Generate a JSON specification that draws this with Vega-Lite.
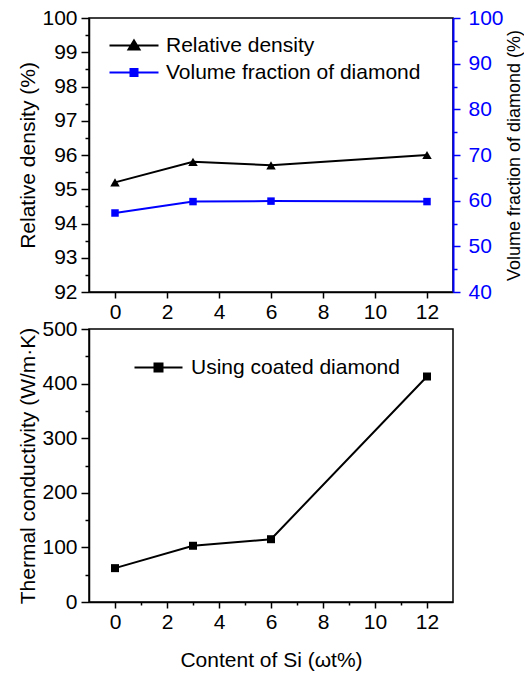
{
  "$schema": "https://vega.github.io/schema/vega-lite/v6.json",
  "padding": {"left": 17, "top": 6, "right": 0, "bottom": 2},
  "bounds": "flush",
  "spacing": 37,
  "datasets": {
    "top": [
      {"si": 0, "series": "Relative density", "value": 95.2},
      {"si": 3, "series": "Relative density", "value": 95.8},
      {"si": 6, "series": "Relative density", "value": 95.7},
      {"si": 12, "series": "Relative density", "value": 96.0},
      {"si": 0, "series": "Volume fraction of diamond", "value": 57.3},
      {"si": 3, "series": "Volume fraction of diamond", "value": 59.8},
      {"si": 6, "series": "Volume fraction of diamond", "value": 59.9},
      {"si": 12, "series": "Volume fraction of diamond", "value": 59.8}
    ],
    "bottom": [
      {"si": 0, "series": "Using coated diamond", "value": 62},
      {"si": 3, "series": "Using coated diamond", "value": 103},
      {"si": 6, "series": "Using coated diamond", "value": 115},
      {"si": 12, "series": "Using coated diamond", "value": 413}
    ]
  },
  "resolve": {"scale": {"color": "independent", "x": "independent"}, "legend": {"color": "independent"}},
  "vconcat": [
    {
      "width": 364,
      "height": 274,
      "data": {"name": "top"},
      "resolve": {"scale": {"y": "independent"}},
      "layer": [
        {
          "transform": [{"filter": "datum.series == 'Relative density'"}],
          "encoding": {
            "x": {"field": "si", "type": "quantitative", "scale": {"domain": [-1, 13], "nice": false},
              "axis": {"title": null, "values": [0,1,2,3,4,5,6,7,8,9,10,11,12],
                "labelExpr": "datum.value % 2 == 0 ? format(datum.value, 'd') : ''",
                "tickSize": 6, "labelFlush": false, "labelPadding": 3,
                "encoding": {"ticks": {"y2": {"condition": {"test": "datum.value % 2 != 0", "value": 3}, "value": 6}}}}},
            "y": {"field": "value", "type": "quantitative", "scale": {"domain": [92, 100], "nice": false, "zero": false},
              "axis": {"title": "Relative density (%)", "values": [92,92.5,93,93.5,94,94.5,95,95.5,96,96.5,97,97.5,98,98.5,99,99.5,100],
                "labelExpr": "datum.value % 1 == 0 ? format(datum.value, 'd') : ''",
                "tickSize": 8, "labelPadding": 4, "titlePadding": 3,
                "encoding": {"ticks": {"x2": {"condition": {"test": "datum.value % 1 != 0", "value": -4}, "value": -8}}}}}
          },
          "layer": [
            {"mark": {"type": "line", "strokeWidth": 2},
              "encoding": {"color": {"field": "series", "type": "nominal",
                "scale": {"domain": ["Relative density", "Volume fraction of diamond"], "range": ["black", "blue"]},
                "legend": {"title": null, "orient": "none", "legendX": 15, "legendY": 17, "padding": 0, "rowPadding": 5,
                  "labelFont": "Liberation Sans", "labelFontSize": 21, "labelColor": "black", "labelOffset": 41, "labelLimit": 400,
                  "symbolSize": 100, "symbolStrokeWidth": 2,
                  "encoding": {"symbols": {
                    "shape": {"condition": {"test": "datum.value == 'Relative density'", "value": "M-1,0H8.8M3.9,-1L5,0.8L2.8,0.8Z"}, "value": "M-1,0H8.8M3.2,-0.7H4.6V0.7H3.2Z"},
                    "fill": {"condition": {"test": "datum.value == 'Relative density'", "value": "black"}, "value": "blue"},
                    "stroke": {"condition": {"test": "datum.value == 'Relative density'", "value": "black"}, "value": "blue"},
                    "strokeWidth": {"value": 2}, "opacity": {"value": 1}, "fillOpacity": {"value": 1}}}}}}},
            {"mark": {"type": "point", "shape": "triangle-up", "filled": true, "size": 90, "color": "black", "opacity": 1}}
          ]
        },
        {
          "transform": [{"filter": "datum.series == 'Volume fraction of diamond'"}],
          "encoding": {
            "x": {"field": "si", "type": "quantitative", "scale": {"domain": [-1, 13], "nice": false}},
            "y": {"field": "value", "type": "quantitative", "scale": {"domain": [40, 100], "nice": false, "zero": false},
              "axis": {"orient": "right", "title": "Volume fraction of diamond (%)", "values": [40,45,50,55,60,65,70,75,80,85,90,95,100],
                "labelExpr": "datum.value % 10 == 0 ? format(datum.value, 'd') : ''",
                "tickSize": 7,
                "labelColor": "blue", "tickColor": "blue", "domainColor": "blue", "domainWidth": 2,
                "titleColor": "black", "titleFontSize": 18, "titleAngle": 270, "labelPadding": 8, "titlePadding": 20,
                "encoding": {"ticks": {"x2": {"condition": {"test": "datum.value % 10 != 0", "value": 4}, "value": 7}}}}}
          },
          "layer": [
            {"mark": {"type": "line", "strokeWidth": 2}, "encoding": {"color": {"field": "series", "type": "nominal", "legend": null}}},
            {"mark": {"type": "point", "shape": "square", "filled": true, "size": 56, "color": "blue", "opacity": 1}}
          ]
        }
      ]
    },
    {
      "width": 364,
      "height": 273,
      "data": {"name": "bottom"},
      "encoding": {
        "x": {"field": "si", "type": "quantitative", "scale": {"domain": [-1, 13], "nice": false},
          "axis": {"title": "Content of Si (ωt%)", "values": [0,1,2,3,4,5,6,7,8,9,10,11,12],
            "labelExpr": "datum.value % 2 == 0 ? format(datum.value, 'd') : ''",
            "tickSize": 6, "labelFlush": false, "labelPadding": 3, "titlePadding": 17,
            "encoding": {"ticks": {"y2": {"condition": {"test": "datum.value % 2 != 0", "value": 3}, "value": 6}}}}},
        "y": {"field": "value", "type": "quantitative", "scale": {"domain": [0, 500], "nice": false},
          "axis": {"title": "Thermal conductivity (W/m·K)", "values": [0,50,100,150,200,250,300,350,400,450,500],
            "labelExpr": "datum.value % 100 == 0 ? format(datum.value, 'd') : ''",
            "tickSize": 8, "labelPadding": 4, "titlePadding": 3,
            "encoding": {"ticks": {"x2": {"condition": {"test": "datum.value % 100 != 0", "value": -4}, "value": -8}}}}}
      },
      "layer": [
        {"mark": {"type": "line", "strokeWidth": 2},
          "encoding": {"color": {"field": "series", "type": "nominal", "scale": {"domain": ["Using coated diamond"], "range": ["black"]},
            "legend": {"title": null, "orient": "none", "legendX": 40, "legendY": 28, "padding": 0,
              "labelFont": "Liberation Sans", "labelFontSize": 21, "labelColor": "black", "labelOffset": 41, "labelLimit": 400,
              "symbolSize": 100, "symbolStrokeWidth": 2,
              "encoding": {"symbols": {
                "shape": {"value": "M-1,0H8.6M3.0,-0.8H4.6V0.8H3.0Z"},
                "fill": {"value": "black"}, "stroke": {"value": "black"},
                "strokeWidth": {"value": 2}, "opacity": {"value": 1}, "fillOpacity": {"value": 1}}}}}}},
        {"mark": {"type": "point", "shape": "square", "filled": true, "size": 64, "color": "black", "opacity": 1}}
      ]
    }
  ],
  "config": {
    "font": "Liberation Sans",
    "view": {"stroke": "black", "strokeWidth": 1.5},
    "axis": {"grid": false, "labelFont": "Liberation Sans", "titleFont": "Liberation Sans", "labelFontSize": 21, "titleFontSize": 21,
      "titleFontWeight": "normal", "labelColor": "black", "titleColor": "black", "domainColor": "black", "tickColor": "black",
      "domainWidth": 1.5, "tickWidth": 1.5}
  }
}
